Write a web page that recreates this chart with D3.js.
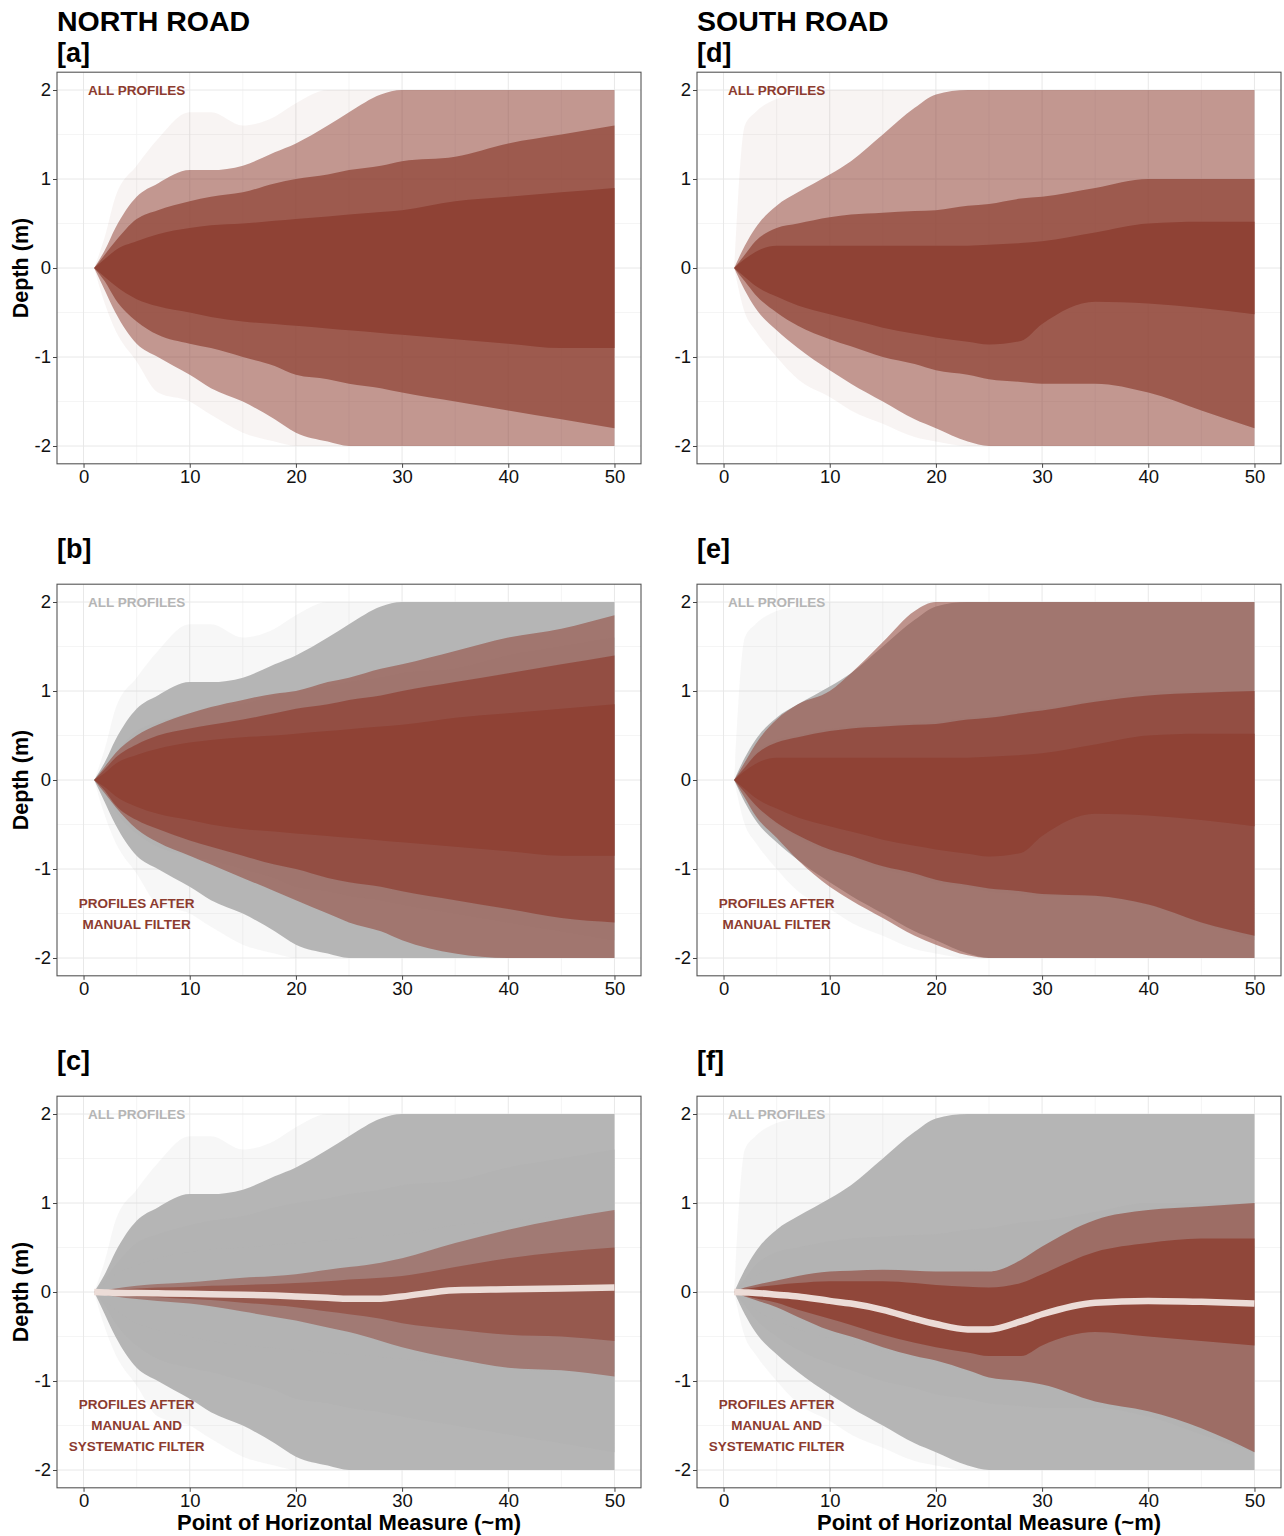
<!DOCTYPE html>
<html>
<head>
<meta charset="utf-8">
<script src="https://cdn.jsdelivr.net/npm/d3@7"></script>
<style>
  html, body { margin: 0; padding: 0; background: #ffffff; }
  svg { display: block; font-family: "Liberation Sans", Arial, sans-serif; }
</style>
</head>
<body>
<svg id="chart" width="1284" height="1536"></svg>
<script>
// ---------------- DATA ----------------
// Horizontal measure positions at which the profile envelopes were read
const X = [1, 2, 3, 5, 7, 10, 12, 15, 18, 20, 23, 25, 28, 30, 35, 40, 45, 50];

// NORTH ROAD – all profiles (density envelopes, m)
const northFaintUp  = [0, 0.35, 0.8, 1.15, 1.45, 1.75, 1.75, 1.6, 1.7, 1.85, 2, 2, 2, 2, 2, 2, 2, 2];
const northFaintLo  = [0, -0.4, -0.7, -1.05, -1.4, -1.5, -1.65, -1.85, -1.95, -2, -2, -2, -2, -2, -2, -2, -2, -2];
const northSparseUp = [0, 0.2, 0.45, 0.8, 0.95, 1.1, 1.1, 1.15, 1.3, 1.4, 1.6, 1.75, 1.95, 2, 2, 2, 2, 2];
const northSparseLo = [0, -0.25, -0.5, -0.85, -1, -1.2, -1.35, -1.5, -1.7, -1.85, -1.95, -2, -2, -2, -2, -2, -2, -2];
const northMediumUp = [0, 0.15, 0.3, 0.55, 0.65, 0.75, 0.8, 0.85, 0.95, 1, 1.05, 1.1, 1.15, 1.2, 1.25, 1.4, 1.5, 1.6];
const northMediumLo = [0, -0.15, -0.35, -0.6, -0.75, -0.85, -0.9, -1, -1.1, -1.2, -1.25, -1.3, -1.35, -1.4, -1.5, -1.6, -1.7, -1.8];
const northDenseUp  = [0, 0.1, 0.2, 0.3, 0.38, 0.45, 0.48, 0.5, 0.53, 0.55, 0.58, 0.6, 0.63, 0.65, 0.75, 0.8, 0.85, 0.9];
const northDenseLo  = [0, -0.1, -0.2, -0.35, -0.43, -0.5, -0.55, -0.6, -0.63, -0.65, -0.68, -0.7, -0.73, -0.75, -0.8, -0.85, -0.9, -0.9];

// NORTH ROAD – profiles after manual filter
const northManSparseUp = [0, 0.15, 0.3, 0.5, 0.62, 0.75, 0.82, 0.9, 0.97, 1, 1.1, 1.15, 1.25, 1.3, 1.45, 1.6, 1.7, 1.85];
const northManSparseLo = [0, -0.15, -0.3, -0.55, -0.7, -0.85, -0.95, -1.1, -1.25, -1.35, -1.5, -1.6, -1.7, -1.8, -1.95, -2, -2, -2];
const northManMediumUp = [0, 0.12, 0.25, 0.4, 0.5, 0.58, 0.62, 0.68, 0.75, 0.8, 0.85, 0.9, 0.95, 1, 1.1, 1.2, 1.3, 1.4];
const northManMediumLo = [0, -0.12, -0.28, -0.45, -0.55, -0.68, -0.75, -0.85, -0.95, -1, -1.1, -1.15, -1.2, -1.25, -1.35, -1.45, -1.55, -1.6];
const northManDenseUp  = [0, 0.08, 0.18, 0.28, 0.35, 0.42, 0.45, 0.48, 0.5, 0.52, 0.55, 0.57, 0.6, 0.62, 0.7, 0.75, 0.8, 0.85];
const northManDenseLo  = [0, -0.08, -0.18, -0.3, -0.38, -0.45, -0.5, -0.55, -0.58, -0.6, -0.63, -0.65, -0.68, -0.7, -0.75, -0.8, -0.85, -0.85];

// NORTH ROAD – profiles after manual and systematic filter, and their mean
const northSysOuterUp = [0, 0.02, 0.04, 0.07, 0.09, 0.11, 0.13, 0.16, 0.18, 0.2, 0.25, 0.28, 0.33, 0.38, 0.55, 0.7, 0.82, 0.92];
const northSysOuterLo = [0, -0.03, -0.05, -0.08, -0.1, -0.13, -0.16, -0.22, -0.28, -0.32, -0.4, -0.45, -0.55, -0.62, -0.75, -0.85, -0.88, -0.95];
const northSysDenseUp = [0, 0.01, 0.02, 0.04, 0.05, 0.06, 0.07, 0.08, 0.09, 0.1, 0.12, 0.14, 0.16, 0.18, 0.28, 0.38, 0.45, 0.5];
const northSysDenseLo = [0, -0.02, -0.03, -0.05, -0.06, -0.08, -0.09, -0.12, -0.15, -0.17, -0.22, -0.25, -0.3, -0.35, -0.42, -0.48, -0.5, -0.55];
const northMean       = [0, -0.005, -0.01, -0.012, -0.015, -0.02, -0.025, -0.03, -0.04, -0.05, -0.065, -0.075, -0.075, -0.05, 0.02, 0.03, 0.04, 0.05];

// SOUTH ROAD – all profiles
const southFaintUp  = [0, 1.6, 1.75, 1.9, 1.95, 2, 2, 2, 2, 2, 2, 2, 2, 2, 2, 2, 2, 2];
const southFaintLo  = [0, -0.5, -0.7, -1, -1.25, -1.45, -1.6, -1.75, -1.9, -1.95, -2, -2, -2, -2, -2, -2, -2, -2];
const southSparseUp = [0, 0.25, 0.45, 0.7, 0.85, 1.05, 1.2, 1.5, 1.8, 1.95, 2, 2, 2, 2, 2, 2, 2, 2];
const southSparseLo = [0, -0.25, -0.45, -0.7, -0.9, -1.15, -1.3, -1.5, -1.7, -1.8, -1.95, -2, -2, -2, -2, -2, -2, -2];
const southMediumUp = [0, 0.15, 0.3, 0.45, 0.5, 0.57, 0.6, 0.62, 0.64, 0.65, 0.7, 0.72, 0.78, 0.8, 0.9, 1, 1, 1];
const southMediumLo = [0, -0.15, -0.3, -0.5, -0.65, -0.8, -0.88, -1, -1.08, -1.15, -1.2, -1.25, -1.28, -1.3, -1.3, -1.4, -1.6, -1.8];
const southDenseUp  = [0, 0.1, 0.18, 0.25, 0.25, 0.25, 0.25, 0.25, 0.25, 0.25, 0.25, 0.26, 0.28, 0.3, 0.4, 0.5, 0.52, 0.52];
const southDenseLo  = [0, -0.1, -0.2, -0.32, -0.42, -0.52, -0.58, -0.67, -0.74, -0.78, -0.83, -0.86, -0.82, -0.63, -0.38, -0.4, -0.45, -0.52];

// SOUTH ROAD – profiles after manual filter
const southManSparseUp = [0, 0.2, 0.4, 0.68, 0.85, 1, 1.2, 1.55, 1.9, 2, 2, 2, 2, 2, 2, 2, 2, 2];
const southManSparseLo = [0, -0.2, -0.4, -0.65, -0.9, -1.2, -1.35, -1.55, -1.75, -1.85, -1.97, -2, -2, -2, -2, -2, -2, -2];
const southManMediumUp = [0, 0.14, 0.28, 0.42, 0.48, 0.55, 0.58, 0.6, 0.62, 0.63, 0.68, 0.7, 0.75, 0.78, 0.88, 0.95, 0.98, 1];
const southManMediumLo = [0, -0.14, -0.28, -0.48, -0.62, -0.78, -0.85, -0.97, -1.05, -1.12, -1.18, -1.22, -1.25, -1.28, -1.3, -1.4, -1.6, -1.75];
const southManDenseUp  = [0, 0.1, 0.18, 0.25, 0.25, 0.25, 0.25, 0.25, 0.25, 0.25, 0.25, 0.26, 0.28, 0.3, 0.4, 0.5, 0.52, 0.52];
const southManDenseLo  = [0, -0.1, -0.2, -0.32, -0.42, -0.52, -0.58, -0.67, -0.74, -0.78, -0.83, -0.86, -0.82, -0.63, -0.38, -0.4, -0.45, -0.52];

// SOUTH ROAD – profiles after manual and systematic filter, and their mean
const southSysOuterUp = [0, 0.05, 0.08, 0.13, 0.18, 0.23, 0.24, 0.25, 0.24, 0.23, 0.23, 0.23, 0.36, 0.51, 0.81, 0.92, 0.96, 1];
const southSysOuterLo = [0, -0.05, -0.09, -0.17, -0.28, -0.43, -0.5, -0.62, -0.72, -0.77, -0.88, -0.96, -1, -1.04, -1.23, -1.34, -1.53, -1.8];
const southSysDenseUp = [0, 0.03, 0.05, 0.08, 0.1, 0.12, 0.12, 0.12, 0.1, 0.08, 0.06, 0.05, 0.1, 0.2, 0.45, 0.55, 0.6, 0.6];
const southSysDenseLo = [0, -0.04, -0.07, -0.12, -0.2, -0.3, -0.37, -0.48, -0.57, -0.62, -0.68, -0.72, -0.72, -0.6, -0.45, -0.5, -0.55, -0.6];
const southMean       = [0, -0.005, -0.01, -0.03, -0.05, -0.1, -0.13, -0.2, -0.3, -0.36, -0.42, -0.42, -0.33, -0.25, -0.12, -0.1, -0.11, -0.13];

// Axis ticks and texts
const xTicks = [0, 10, 20, 30, 40, 50];
const xMinor = [5, 15, 25, 35, 45];
const yTicks = [-2, -1, 0, 1, 2];
const yMinor = [-1.5, -0.5, 0.5, 1.5];
const roadTitles = ["NORTH ROAD", "SOUTH ROAD"];
const panelTags = [["[a]", "[b]", "[c]"], ["[d]", "[e]", "[f]"]];
const topNote = "ALL PROFILES";
const bottomNotes = [null, ["PROFILES AFTER", "MANUAL FILTER"], ["PROFILES AFTER", "MANUAL AND", "SYSTEMATIC FILTER"]];
const yTitle = "Depth (m)";
const xTitle = "Point of Horizontal Measure (~m)";

// ---------------- STYLE ----------------
const RED = "#8f4235";
const GRAY = "#b3b3b3";
const MEAN = "#ecdcd7";
const RED_TEXT = "#8c3b2f";
const GRAY_TEXT = "#b5b5b5";

const band = (up, lo) => ({ up, lo });
const roads = [
  {
    all: [band(northFaintUp, northFaintLo), band(northSparseUp, northSparseLo), band(northMediumUp, northMediumLo), band(northDenseUp, northDenseLo)],
    man: [band(northManSparseUp, northManSparseLo), band(northManMediumUp, northManMediumLo), band(northManDenseUp, northManDenseLo)],
    sys: [band(northSysOuterUp, northSysOuterLo), band(northSysDenseUp, northSysDenseLo)],
    mean: northMean,
    sysOp: [0.5, 0.6]
  },
  {
    all: [band(southFaintUp, southFaintLo), band(southSparseUp, southSparseLo), band(southMediumUp, southMediumLo), band(southDenseUp, southDenseLo)],
    man: [band(southManSparseUp, southManSparseLo), band(southManMediumUp, southManMediumLo), band(southManDenseUp, southManDenseLo)],
    sys: [band(southSysOuterUp, southSysOuterLo), band(southSysDenseUp, southSysDenseLo)],
    mean: southMean,
    sysOp: [0.62, 0.9]
  }
];

// ---------------- LAYOUT ----------------
const svg = d3.select("#chart");
svg.append("rect").attr("width", 1284).attr("height", 1536).attr("fill", "#fff");

const colLeft = [57, 697];
const colRight = [641, 1281];
const rowZero = [268, 780, 1292];
const unitY = 89;
const tagBaseline = [62, 558, 1070];

const fontTick = 18.5;

function drawPanel(col, row) {
  const road = roads[col];
  const x = d3.scaleLinear().domain([-2.5, 52.5]).range([colLeft[col], colRight[col]]);
  const y = d3.scaleLinear().domain([-2.2, 2.2]).range([rowZero[row] + 2.2 * unitY, rowZero[row] - 2.2 * unitY]);
  const g = svg.append("g");
  const id = "clip" + col + row;
  g.append("clipPath").attr("id", id).append("rect")
    .attr("x", x.range()[0]).attr("y", y.range()[1])
    .attr("width", x.range()[1] - x.range()[0]).attr("height", y.range()[0] - y.range()[1]);

  // grid
  const grid = g.append("g");
  xMinor.forEach(v => grid.append("line").attr("x1", x(v)).attr("x2", x(v)).attr("y1", y.range()[0]).attr("y2", y.range()[1]).attr("stroke", "#f2f2f2").attr("stroke-width", 0.8));
  yMinor.forEach(v => grid.append("line").attr("y1", y(v)).attr("y2", y(v)).attr("x1", x.range()[0]).attr("x2", x.range()[1]).attr("stroke", "#f2f2f2").attr("stroke-width", 0.8));
  xTicks.forEach(v => grid.append("line").attr("x1", x(v)).attr("x2", x(v)).attr("y1", y.range()[0]).attr("y2", y.range()[1]).attr("stroke", "#e8e8e8").attr("stroke-width", 1));
  yTicks.forEach(v => grid.append("line").attr("y1", y(v)).attr("y2", y(v)).attr("x1", x.range()[0]).attr("x2", x.range()[1]).attr("stroke", "#e8e8e8").attr("stroke-width", 1));

  const marks = g.append("g").attr("clip-path", `url(#${id})`);
  const area = d3.area().x((d, i) => x(X[i])).y0(d => y(d[1])).y1(d => y(d[0])).curve(d3.curveMonotoneX);
  const drawBand = (b, color, op) => {
    marks.append("path").datum(b.up.map((u, i) => [u, b.lo[i]]))
      .attr("d", area).attr("fill", color).attr("fill-opacity", op);
  };

  if (row === 0) {
    const ops = [0.06, 0.52, 0.72, 1];
    road.all.forEach((b, i) => drawBand(b, RED, ops[i]));
  } else {
    const gops = [0.1, 0.97, 1, 1];
    road.all.forEach((b, i) => drawBand(b, GRAY, gops[i]));
    if (row === 1) {
      const rops = [0.55, 0.75, 1];
      road.man.forEach((b, i) => drawBand(b, RED, rops[i]));
    } else {
      road.sys.forEach((b, i) => drawBand(b, RED, road.sysOp[i]));
      const line = d3.line().x((d, i) => x(X[i])).y(d => y(d)).curve(d3.curveMonotoneX);
      marks.append("path").datum(road.mean).attr("d", line)
        .attr("fill", "none").attr("stroke", MEAN).attr("stroke-width", 6.5);
    }
  }

  // border
  g.append("rect").attr("x", x.range()[0]).attr("y", y.range()[1])
    .attr("width", x.range()[1] - x.range()[0]).attr("height", y.range()[0] - y.range()[1])
    .attr("fill", "none").attr("stroke", "#555").attr("stroke-width", 1.1);

  // axes
  const ax = g.append("g").attr("transform", `translate(0,${y.range()[0]})`)
    .call(d3.axisBottom(x).tickValues(xTicks).tickSize(4).tickPadding(2).tickFormat(d => String(d)));
  const ay = g.append("g").attr("transform", `translate(${x.range()[0]},0)`)
    .call(d3.axisLeft(y).tickValues(yTicks).tickSize(4).tickPadding(2).tickFormat(d => String(d)));
  [ax, ay].forEach(a => {
    a.select(".domain").remove();
    a.selectAll(".tick line").attr("stroke", "#444");
    a.selectAll(".tick text").attr("font-size", fontTick).attr("fill", "#111")
      .attr("font-family", "Liberation Sans, Arial, sans-serif");
  });

  // notes
  const noteColor = row === 0 ? RED_TEXT : GRAY_TEXT;
  g.append("text").attr("x", x(5)).attr("y", y(2)).attr("dy", "0.36em")
    .attr("text-anchor", "middle").attr("font-size", 13.5).attr("font-weight", "bold")
    .attr("fill", noteColor).text(topNote);
  const bn = bottomNotes[row];
  if (bn) {
    const lh = 21;
    const cy = y(-1.5);
    bn.forEach((t, i) => {
      g.append("text").attr("x", x(5)).attr("y", cy + (i - (bn.length - 1) / 2) * lh).attr("dy", "0.36em")
        .attr("text-anchor", "middle").attr("font-size", 13.5).attr("font-weight", "bold")
        .attr("fill", RED_TEXT).text(t);
    });
  }

  // titles
  if (row === 0) {
    svg.append("text").attr("x", colLeft[col]).attr("y", 31).attr("font-size", 28.5)
      .attr("font-weight", "bold").attr("fill", "#000").text(roadTitles[col]);
  }
  svg.append("text").attr("x", colLeft[col]).attr("y", tagBaseline[row]).attr("font-size", 27)
    .attr("font-weight", "bold").attr("fill", "#000").text(panelTags[col][row]);

  if (col === 0) {
    svg.append("text").attr("transform", `translate(28,${rowZero[row]}) rotate(-90)`)
      .attr("text-anchor", "middle").attr("font-size", 21.5).attr("font-weight", "bold")
      .attr("fill", "#000").text(yTitle);
  }
  if (row === 2) {
    svg.append("text").attr("x", (colLeft[col] + colRight[col]) / 2).attr("y", 1530)
      .attr("text-anchor", "middle").attr("font-size", 22).attr("font-weight", "bold")
      .attr("fill", "#000").text(xTitle);
  }
}

for (let c = 0; c < 2; c++) for (let r = 0; r < 3; r++) drawPanel(c, r);
</script>
</body>
</html>
